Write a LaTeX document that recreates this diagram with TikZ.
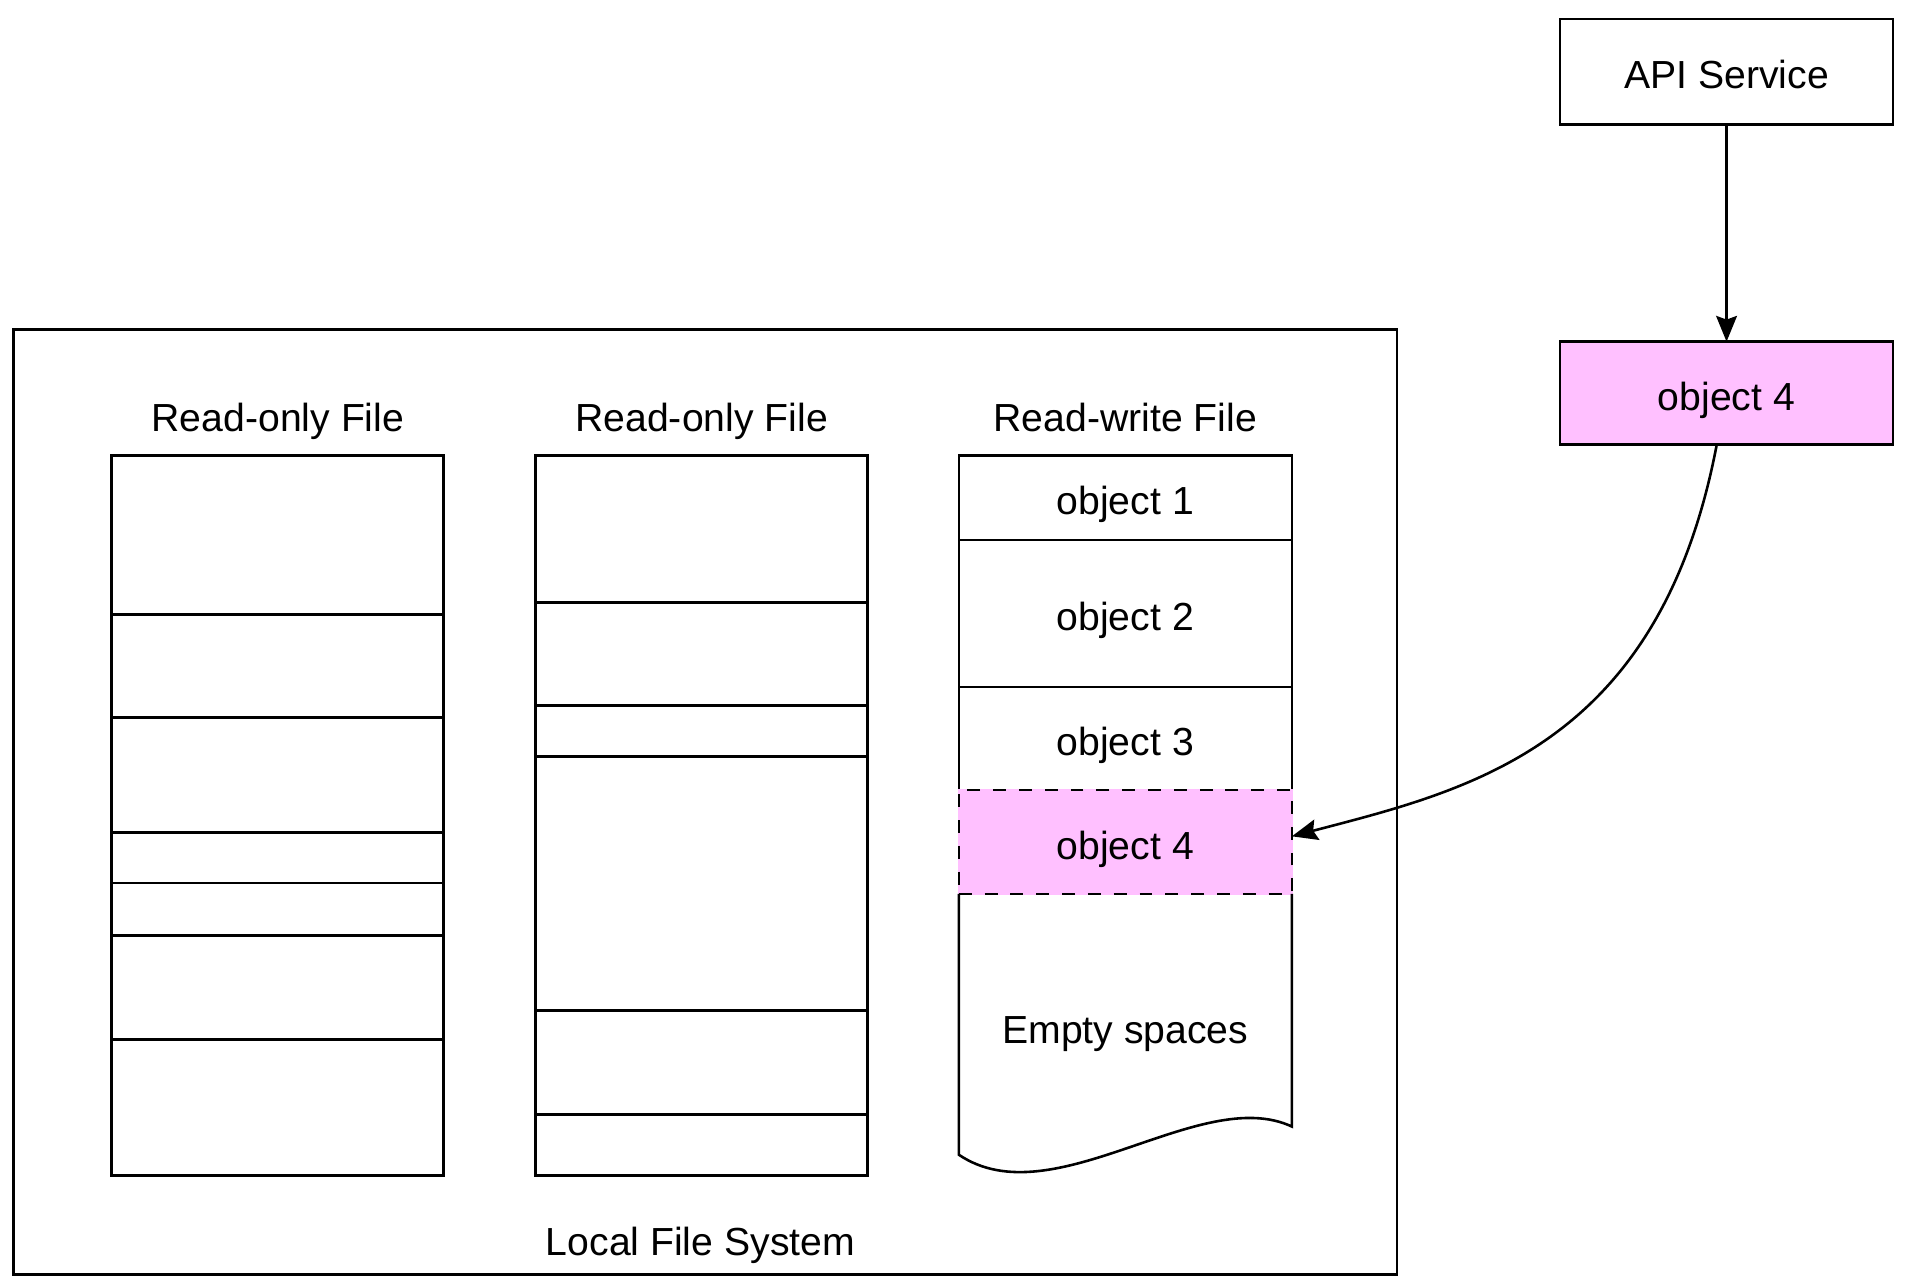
\documentclass[tikz,border=0pt]{standalone}
\usepackage{fontspec}
\setmainfont{Liberation Sans}
\usetikzlibrary{positioning,arrows.meta}
\definecolor{objpink}{RGB}{255,192,255}
\begin{document}
\begin{tikzpicture}[>={Stealth[length=2.1mm,width=1.7mm,inset=0.3mm]},font=\fontsize{9.1}{10.9}\selectfont,x=1cm,y=1cm,line width=0.6pt]
      \tikzset{every node/.style={text height=0.80em, text depth=0pt},
        box/.style={draw, minimum width=2.72cm, minimum height=0.86cm, align=center, outer sep=0pt},
        filecol/.style={draw, minimum width=2.71cm, minimum height=5.88cm, outer sep=0pt},
        cell/.style={draw, minimum width=2.72cm, outer sep=0pt, inner sep=0pt}}
      \useasboundingbox (0,0) rectangle (15.68,-10.51);
      % local file system frame
      \node[draw, minimum width=11.30cm, minimum height=7.72cm, outer sep=0pt] (fs) at (5.76,-6.55) {};
      \node (fslabel) at (5.72,-10.11) {Local File System};
      % read-only files
      \node (title1) at (2.27,-3.38) {Read-only File};
      \node (title2) at (5.73,-3.38) {Read-only File};
      \node (title3) at (9.19,-3.38) {Read-write File};
      \node[filecol] (ro1) at (2.265,-6.66) {};
      \node[filecol] (ro2) at (5.73,-6.66) {};
      \foreach \y in {5.02,5.86,6.80,7.21,7.64,8.49}
        \draw (ro1.west |- 0,-\y) -- (ro1.east |- 0,-\y);
      \foreach \y in {4.92,5.76,6.18,8.25,9.10}
        \draw (ro2.west |- 0,-\y) -- (ro2.east |- 0,-\y);
      % read-write file
      \node[cell, minimum height=0.69cm] (obj1) at (9.19,-4.065) {object 1};
      \node[cell, minimum height=1.20cm, below=0pt of obj1] (obj2) {object 2};
      \node[cell, minimum height=0.84cm, below=0pt of obj2] (obj3) {object 3};
      \node[cell, minimum height=0.85cm, below=0pt of obj3, fill=objpink, dashed,
        preaction={draw=objpink, solid}] (obj4) {object 4};
      \draw (obj4.south west) -- (obj4.south west |- 0,-9.43)
        .. controls (8.6,-9.95) and (9.8,-8.85) .. (obj4.south east |- 0,-9.20)
        -- (obj4.south east);
      \node (empty) at (9.19,-8.38) {Empty spaces};
      % api side
      \node[box] (api) at (14.10,-0.585) {API Service};
      \node[box, minimum height=0.84cm, fill=objpink] (newobj) at (14.10,-3.21) {object 4};
      \draw[->] (api) -- (newobj);
      \draw[->] ([xshift=-0.08cm]newobj.south) .. controls (13.55,-6.1) and (12.0,-6.45) .. ([yshift=0.045cm]obj4.east);
    \end{tikzpicture}
\end{document}
